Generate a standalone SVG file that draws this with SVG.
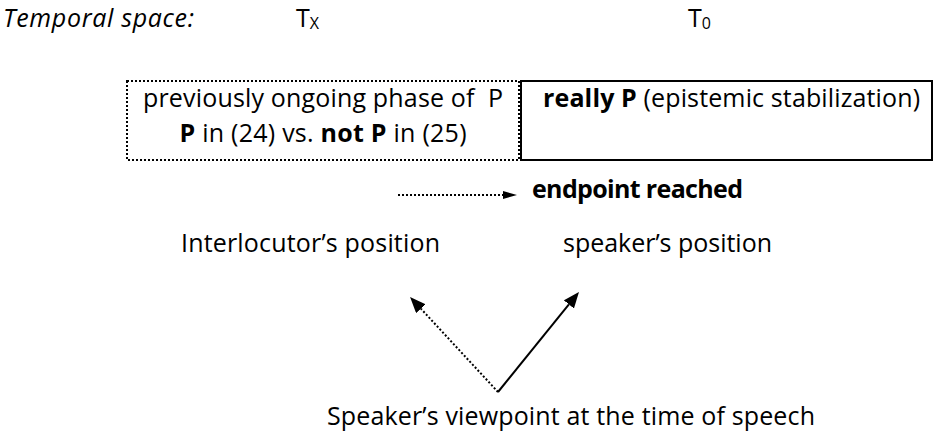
<svg xmlns="http://www.w3.org/2000/svg" width="934" height="439" viewBox="0 0 934 439">
<style>
  text { font-family: "Open Sans", "Liberation Sans", sans-serif; font-size: 25px; fill: #000; }
  .b { font-weight: bold; }
  .it { font-style: italic; }
  .sub { font-size: 16px; }
  .dot { fill: none; stroke: #000; stroke-width: 2; stroke-dasharray: 2 2; }
  .solid { fill: none; stroke: #000; stroke-width: 2; }
</style>
<defs>
  <marker id="head" markerUnits="userSpaceOnUse" markerWidth="16" markerHeight="13" refX="0" refY="6.5" orient="auto">
    <path d="M0,0 L16,6.5 L0,13 z" fill="#000"/>
  </marker>
  <marker id="headSmall" markerUnits="userSpaceOnUse" markerWidth="14" markerHeight="8" refX="0" refY="4" orient="auto">
    <path d="M0,0 L14,4 L0,8 z" fill="#000"/>
  </marker>
</defs>
<rect width="934" height="439" fill="#fff"/>

<g id="temporal-space">
  <text class="it" x="3" y="27" textLength="191">Temporal space:</text>
  <text x="296" y="27">T<tspan class="sub" dy="2">X</tspan></text>
  <text x="688" y="27">T<tspan class="sub" dy="2">0</tspan></text>
</g>

<g id="previous-phase">
  <rect class="dot" x="127" y="81" width="392" height="79"/>
  <text x="323" y="107" text-anchor="middle" xml:space="preserve" textLength="360">previously ongoing phase of  P</text>
  <text x="323" y="142" text-anchor="middle" textLength="287"><tspan class="b">P</tspan> in (24) vs. <tspan class="b">not P</tspan> in (25)</text>
</g>

<g id="really-p">
  <rect class="solid" x="521" y="81" width="411" height="79"/>
  <text x="543" y="107" textLength="377"><tspan class="b">really P</tspan> (epistemic stabilization)</text>
</g>

<g id="endpoint">
  <text class="b" x="532" y="198" textLength="211">endpoint reached</text>
</g>

<g id="interlocutor">
  <text x="181" y="252" textLength="259">Interlocutor’s position</text>
</g>

<g id="speaker">
  <text x="563" y="252" textLength="209">speaker’s position</text>
</g>

<g id="viewpoint">
  <text x="327" y="425" textLength="488">Speaker’s viewpoint at the time of speech</text>
</g>

<g id="connectors">
  <line class="dot" x1="398" y1="195" x2="503" y2="195" marker-end="url(#headSmall)"/>
  <line class="dot" x1="498" y1="392" x2="420.9" y2="308.7" marker-end="url(#head)"/>
  <line class="solid" x1="498" y1="392" x2="568.9" y2="304.4" marker-end="url(#head)"/>
</g>
</svg>
